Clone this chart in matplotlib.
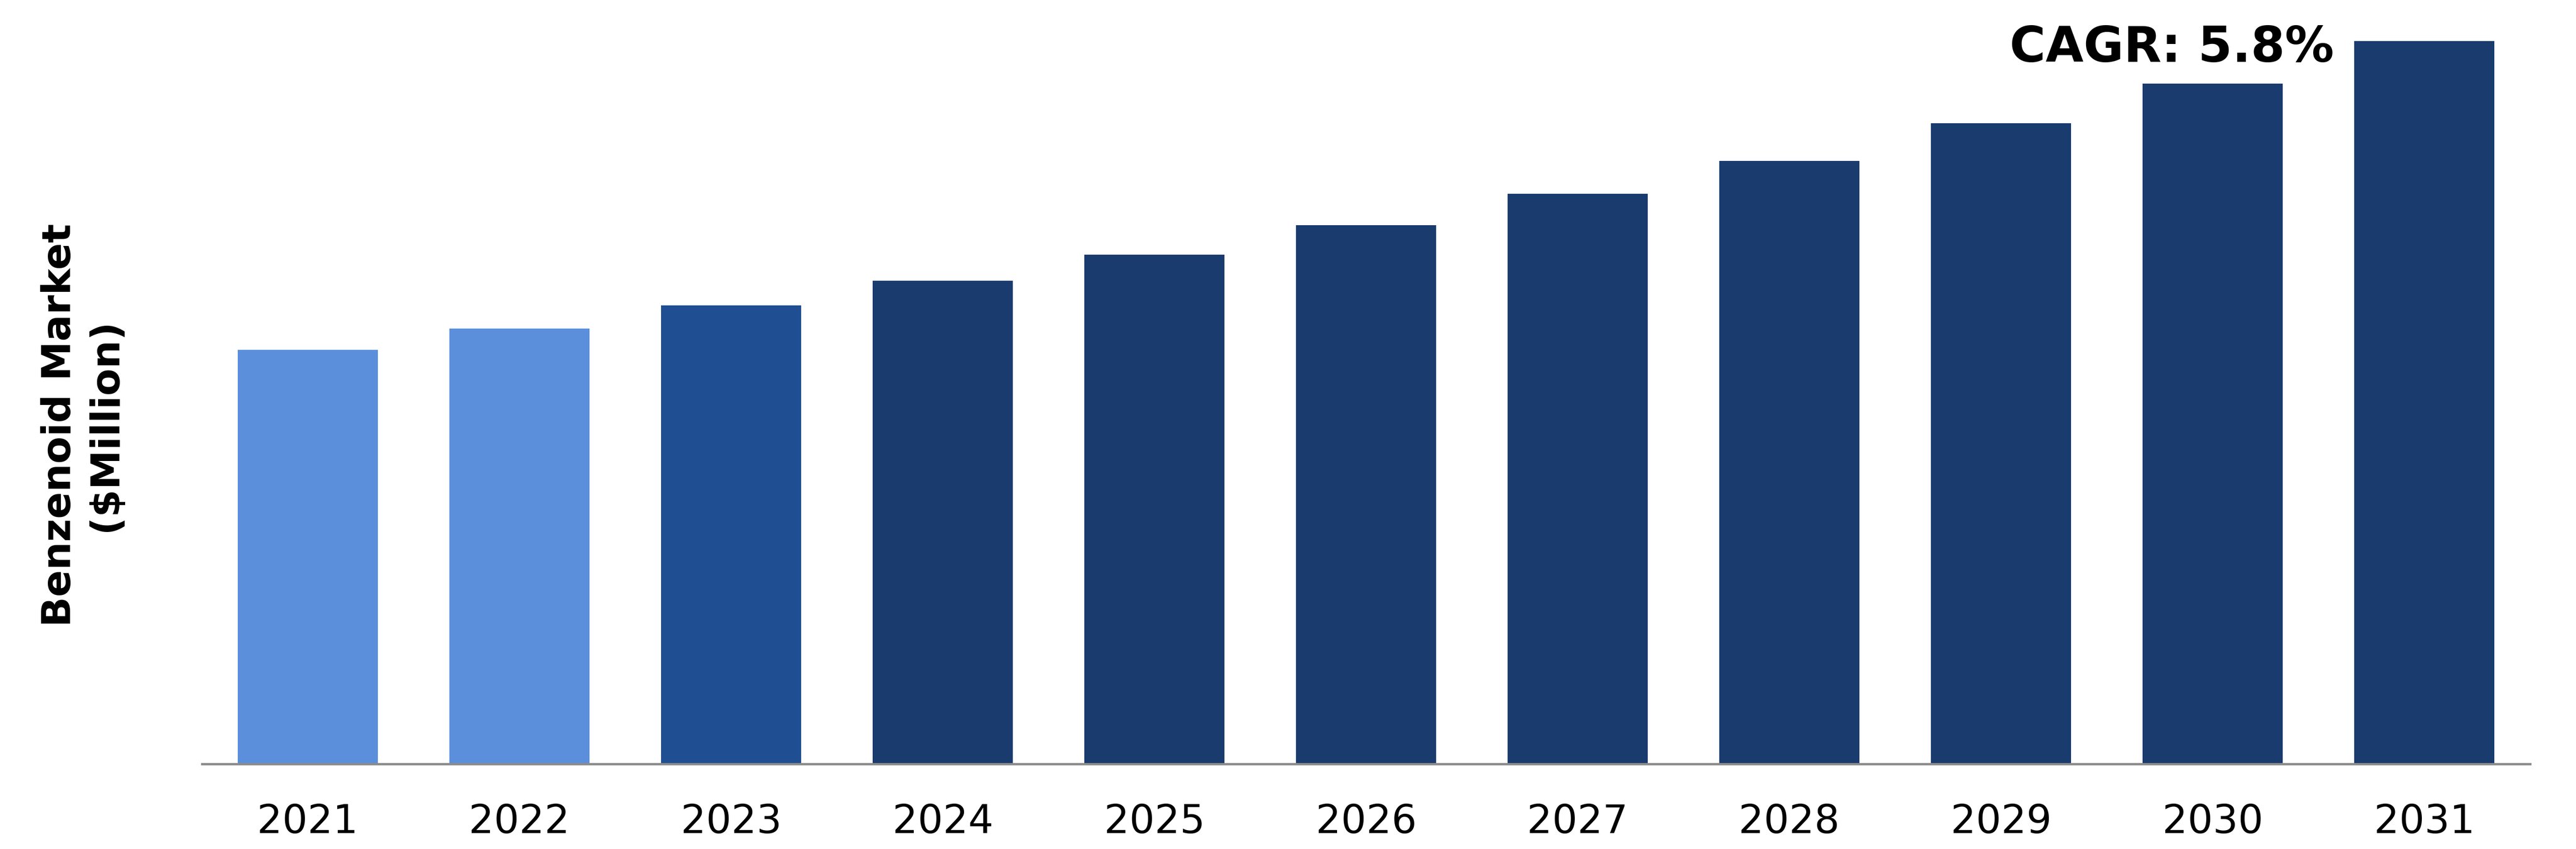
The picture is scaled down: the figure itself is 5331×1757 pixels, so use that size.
import matplotlib
matplotlib.use("Agg")
import matplotlib.pyplot as plt

years = ["2021", "2022", "2023", "2024", "2025", "2026", "2027", "2028", "2029", "2030", "2031"]
market = [252, 265, 279, 294, 310, 328, 347, 367, 390, 414, 440]
bar_colors = ["#5B8FDC", "#5B8FDC", "#1F4F92"] + ["#193B6D"] * 8
cagr_text = "CAGR: 5.8%"
y_title = "Benzenoid Market\n($Million)"

W, H = 5331, 1757
fig = plt.figure(figsize=(W / 100, H / 100), dpi=100)

# axes box in pixel units -> figure fractions
left, right, base, top = 418, 5236, 1581, 85
ax = fig.add_axes([left / W, 1 - base / H, (right - left) / W, (base - top) / H])

x = range(len(years))
ax.bar(x, market, width=0.66, color=bar_colors)
ax.set_xlim(-0.5, len(years) - 0.5)
ax.set_ylim(0, max(market))

for s in ["top", "right", "left"]:
    ax.spines[s].set_visible(False)
ax.spines["bottom"].set_color("#8C8C8C")
ax.spines["bottom"].set_linewidth(3.5)
ax.set_yticks([])
ax.set_xticks(list(x))
ax.set_xticklabels(years, fontsize=59, color="black")
ax.tick_params(axis="x", length=0, pad=58)

fig.text(171 / W, 1 - 880 / H, y_title, rotation=90, ha="center", va="center",
         fontsize=59, fontweight="bold", linespacing=1.25)
fig.text(4495 / W, 1 - 100 / H, cagr_text, ha="center", va="center",
         fontsize=73, fontweight="bold")

fig.savefig("out.png", dpi=100, facecolor="white")
